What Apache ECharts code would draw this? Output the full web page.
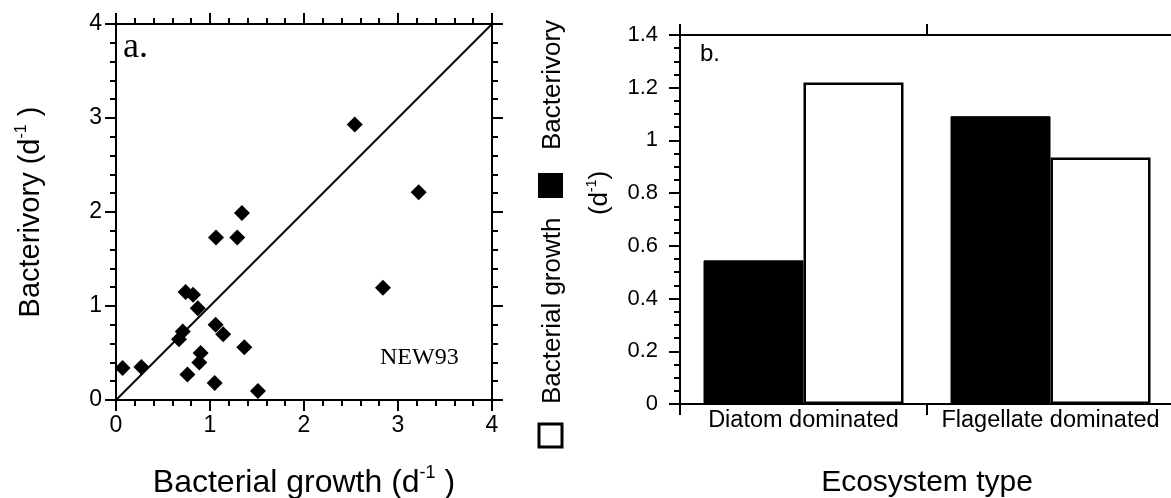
<!DOCTYPE html>
<html>
<head>
<meta charset="utf-8">
<script src="https://cdn.jsdelivr.net/npm/echarts@6/dist/echarts.min.js"></script>
<style>
  html, body { margin: 0; padding: 0; background: #fff; }
  #chart { width: 1171px; height: 498px; }
</style>
</head>
<body>
<div id="chart"></div>
<script>
// panel a: bacterial growth vs bacterivory (NEW93)
const growth = [0.07, 0.27, 0.67, 0.71, 0.74, 0.76, 0.82, 0.87, 0.886, 0.90, 1.05, 1.06, 1.064, 1.14, 1.29, 1.34, 1.365, 1.51, 2.54, 2.84, 3.22];
const bacterivory = [0.34, 0.35, 0.645, 0.73, 1.15, 0.27, 1.12, 0.976, 0.40, 0.50, 0.18, 0.80, 1.73, 0.70, 1.73, 1.99, 0.56, 0.096, 2.93, 1.195, 2.21];
const oneToOne = [[0, 0], [4, 4]];

// panel b: ecosystem type
const categories = ['Diatom dominated', 'Flagellate dominated'];
const bacterivoryBar = [0.545, 1.092];
const growthBar = [1.22, 0.935];

const FONT = '"Liberation Sans", Arial, sans-serif';
const SERIF = '"Liberation Serif", "Times New Roman", serif';
const AX = { lineStyle: { color: '#000', width: 2 } };

const chart = echarts.init(document.getElementById('chart'));

function nameRich(size) {
  return {
    n: { fontSize: size, fontFamily: FONT, color: '#000' },
    s: { fontSize: Math.round(size * 0.55), fontFamily: FONT, color: '#000', padding: [0, 0, Math.round(size * 0.62), 0] },
  };
}

function valueAxis(opts) {
  return Object.assign({
    type: 'value',
    axisLine: { show: true, onZero: false, lineStyle: AX.lineStyle },
    axisTick: { show: true, inside: false, length: 11, lineStyle: AX.lineStyle },
    minorTick: { show: true, splitNumber: 5, length: 6, lineStyle: { color: '#000', width: 2 } },
    splitLine: { show: false },
    minorSplitLine: { show: false },
  }, opts);
}

const option = {
  animation: false,
  backgroundColor: '#fff',
  grid: [
    { left: 116, top: 24, width: 376, height: 376, outerBoundsMode: 'none' },
    { left: 680, top: 35, width: 494, height: 369, outerBoundsMode: 'none' },
  ],
  xAxis: [
    valueAxis({
      gridIndex: 0, min: 0, max: 4, interval: 1, position: 'bottom',
      axisLabel: { fontSize: 23, fontFamily: FONT, color: '#000', margin: 14 },
      name: '{n|Bacterial growth (d}{s|-1}{n| )}',
      nameLocation: 'middle', nameGap: 64,
      nameTextStyle: { rich: nameRich(32) },
    }),
    valueAxis({
      gridIndex: 0, min: 0, max: 4, interval: 1, position: 'top',
      axisLabel: { show: false },
    }),
    {
      type: 'category', gridIndex: 1, data: categories, position: 'bottom',
      axisLine: { show: true, lineStyle: AX.lineStyle },
      axisTick: { show: true, length: 11, lineStyle: AX.lineStyle },
      axisLabel: { interval: 0, fontSize: 23.5, fontFamily: FONT, color: '#000', margin: 5 },
      name: 'Ecosystem type', nameLocation: 'middle', nameGap: 64,
      nameTextStyle: { fontSize: 30, fontFamily: FONT, color: '#000' },
    },
    {
      type: 'category', gridIndex: 1, data: categories, position: 'top',
      axisLine: { show: true, lineStyle: AX.lineStyle },
      axisTick: { show: true, length: 11, lineStyle: AX.lineStyle },
      axisLabel: { show: false },
    },
  ],
  yAxis: [
    valueAxis({
      gridIndex: 0, min: 0, max: 4, interval: 1, position: 'left',
      axisLabel: { fontSize: 23, fontFamily: FONT, color: '#000', margin: 14 },
      name: '{n|Bacterivory (d}{s|-1}{n| )}',
      nameLocation: 'middle', nameGap: 68, nameRotate: 90,
      nameTextStyle: { rich: nameRich(29) },
    }),
    valueAxis({
      gridIndex: 0, min: 0, max: 4, interval: 1, position: 'right',
      axisLabel: { show: false },
    }),
    valueAxis({
      gridIndex: 1, min: 0, max: 1.4, interval: 0.2, position: 'left',
      minorTick: { show: true, splitNumber: 4, length: 6, lineStyle: { color: '#000', width: 2 } },
      axisLabel: { fontSize: 22, fontFamily: FONT, color: '#000', margin: 22 },
    }),
  ],
  graphic: [
    { type: 'text', left: 123, top: 30, style: { text: 'a.', font: '36px ' + SERIF, fill: '#000' } },
    { type: 'text', left: 380, top: 346, style: { text: 'NEW93', font: '24px ' + SERIF, fill: '#000' } },
    { type: 'text', left: 700, top: 42, style: { text: 'b.', font: '24px ' + FONT, fill: '#000' } },
    // rotated legend / y title of panel b
    { type: 'rect', shape: { x: 539, y: 424, width: 23, height: 23 }, style: { fill: '#fff', stroke: '#000', lineWidth: 3 } },
    { type: 'text', x: 553, y: 404, rotation: Math.PI / 2,
      style: { text: 'Bacterial growth', font: '26px ' + FONT, fill: '#000', align: 'left', verticalAlign: 'middle' } },
    { type: 'rect', shape: { x: 538, y: 173, width: 25, height: 25 }, style: { fill: '#000' } },
    { type: 'text', x: 553, y: 150, rotation: Math.PI / 2,
      style: { text: 'Bacterivory', font: '26px ' + FONT, fill: '#000', align: 'left', verticalAlign: 'middle' } },
    { type: 'text', x: 600, y: 193, rotation: Math.PI / 2,
      style: {
        text: '{n|(d}{s|-1}{n|)}', align: 'center', verticalAlign: 'middle',
        rich: nameRich(26),
      } },
  ],
  series: [
    {
      name: '1:1', type: 'line', xAxisIndex: 0, yAxisIndex: 0,
      data: oneToOne, symbol: 'none', silent: true,
      lineStyle: { color: '#000', width: 2 }, z: 2,
    },
    {
      name: 'NEW93', type: 'scatter', xAxisIndex: 0, yAxisIndex: 0,
      data: growth.map((g, i) => [g, bacterivory[i]]),
      symbol: 'diamond', symbolSize: 16,
      itemStyle: { color: '#000', opacity: 1 }, z: 3,
    },
    {
      name: 'Bacterivory', type: 'bar', xAxisIndex: 2, yAxisIndex: 2,
      data: bacterivoryBar, barWidth: 100, barGap: '0%',
      itemStyle: { color: '#000', borderColor: '#000', borderWidth: 1 },
    },
    {
      name: 'Bacterial growth', type: 'bar', xAxisIndex: 2, yAxisIndex: 2,
      data: growthBar, barWidth: 100, barGap: '0%',
      itemStyle: { color: '#fff', borderColor: '#000', borderWidth: 2.5 },
    },
  ],
};

chart.setOption(option);
</script>
</body>
</html>
